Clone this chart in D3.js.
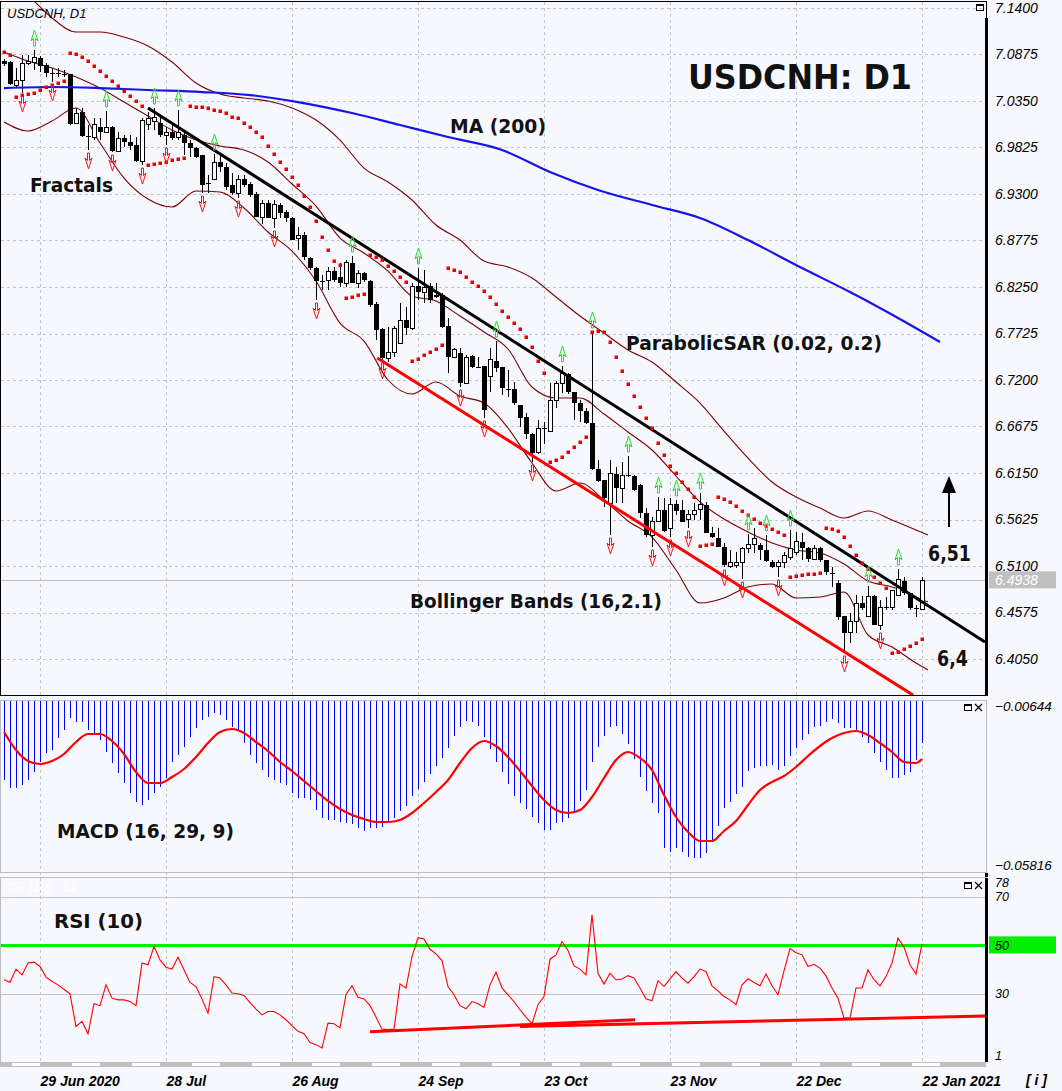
<!DOCTYPE html>
<html><head><meta charset="utf-8">
<script src="https://cdn.jsdelivr.net/npm/d3@7"></script>
<style>
html,body{margin:0;padding:0;background:#f7f8fd;}
svg{display:block;}
</style></head><body>
<script>
// ---------------- DATA ----------------
const dateTicks = [6, 27, 48, 69, 90, 111, 132, 153];
const dateLabels = ["29 Jun 2020", "28 Jul", "26 Aug", "24 Sep", "23 Oct", "23 Nov", "22 Dec", "22 Jan 2021"];
const priceTicks = [7.1400, 7.0875, 7.0350, 6.9825, 6.9300, 6.8775, 6.8250, 6.7725, 6.7200, 6.6675, 6.6150, 6.5625, 6.5100, 6.4575, 6.4050];
const lastPrice = 6.4938;
const macdTicks = [-0.00644, -0.05816];
const rsiTicks = [78, 70, 50, 30, 1];
const rsiGrid = [70, 30];
const rsiLevel = 50;

const open = [
7.0801,7.0790,7.0530,7.0587,7.0779,7.0790,7.0835,7.0756,7.0666,7.0666,
7.0660,7.0655,7.0101,7.0226,6.9955,6.9943,7.0056,6.9999,7.0056,6.9785,
6.9932,6.9887,6.9853,6.9672,7.0090,7.0113,7.0101,6.9966,6.9999,6.9943,
6.9966,6.9876,6.9819,6.9740,6.9424,6.9469,6.9661,6.9605,6.9401,6.9311,
6.9469,6.9413,6.9300,6.9040,6.9198,6.9029,6.9176,6.9097,6.9029,6.8792,
6.8837,6.8577,6.8464,6.8318,6.8318,6.8430,6.8363,6.8295,6.8521,6.8295,
6.8408,6.8318,6.8058,6.7776,6.7448,6.7516,6.7617,6.7877,6.7787,6.8261,
6.8193,6.8261,6.8159,6.8159,6.7810,6.7459,6.7505,6.7166,6.7471,6.7347,
6.7358,6.7245,6.7415,6.7347,6.7098,6.7098,6.6918,6.6782,6.6590,6.6376,
6.6658,6.6624,6.6963,6.7155,6.7268,6.7064,6.6940,6.6850,6.6714,6.6195,
6.6071,6.5811,6.6138,6.5980,6.6127,6.6116,6.6014,6.5698,6.5450,6.5597,
6.5732,6.5529,6.5800,6.5732,6.5630,6.5676,6.5743,6.5788,6.5472,6.5416,
6.5314,6.5089,6.5111,6.5134,6.5292,6.5348,6.5337,6.5281,6.5145,6.5089,
6.5134,6.5201,6.5258,6.5371,6.5303,6.5179,6.5303,6.5168,6.5021,6.4908,
6.4535,6.4344,6.4468,6.4682,6.4535,6.4761,6.4423,6.4637,6.4626,6.4772,
6.4930,6.4795,6.4626,6.4614];
const high = [
7.0824,7.0801,7.0722,7.0869,7.0869,7.0926,7.0858,7.0779,7.0722,7.0722,
7.0700,7.0655,7.0271,7.0271,7.0079,7.0158,7.0158,7.0237,7.0067,6.9999,
6.9966,6.9966,6.9943,7.0158,7.0226,7.0271,7.0169,7.0056,7.0079,7.0248,
7.0022,6.9909,6.9831,6.9740,6.9514,6.9751,6.9751,6.9650,6.9537,6.9514,
6.9514,6.9435,6.9322,6.9232,6.9232,6.9232,6.9198,6.9119,6.9040,6.8927,
6.8871,6.8588,6.8476,6.8385,6.8476,6.8476,6.8521,6.8555,6.8600,6.8442,
6.8419,6.8329,6.8081,6.7787,6.7798,6.7810,6.8069,6.8024,6.8295,6.8464,
6.8442,6.8295,6.8295,6.8182,6.7900,6.7561,6.7561,6.7482,6.7482,6.7459,
6.7358,6.7561,6.7640,6.7347,6.7313,6.7177,6.6918,6.6827,6.6601,6.6748,
6.6726,6.7166,6.7188,6.7358,6.7279,6.7064,6.6974,6.6884,6.7742,6.6297,
6.6071,6.6297,6.6217,6.6274,6.6342,6.6127,6.6025,6.5755,6.5653,6.5879,
6.5868,6.5868,6.5845,6.5845,6.5732,6.5811,6.5924,6.5823,6.5540,6.5529,
6.5360,6.5281,6.5258,6.5314,6.5461,6.5529,6.5360,6.5450,6.5168,6.5168,
6.5258,6.5506,6.5484,6.5472,6.5314,6.5337,6.5314,6.5168,6.5089,6.4942,
6.4535,6.4569,6.4772,6.4761,6.4874,6.4772,6.4716,6.4750,6.4829,6.5066,
6.4976,6.4795,6.4660,6.4976];
const low = [
7.0745,7.0530,7.0497,7.0440,7.0756,7.0700,7.0677,7.0621,7.0564,7.0621,
7.0621,7.0079,7.0090,6.9943,6.9797,6.9909,6.9909,6.9988,6.9774,6.9774,
6.9831,6.9797,6.9661,6.9627,7.0022,7.0022,6.9943,6.9853,6.9909,6.9909,
6.9740,6.9717,6.9706,6.9311,6.9311,6.9469,6.9548,6.9346,6.9288,6.9254,
6.9379,6.9266,6.9040,6.8961,6.9029,6.8916,6.9029,6.8984,6.8780,6.8668,
6.8555,6.8442,6.8103,6.8216,6.8216,6.8306,6.8250,6.8250,6.8295,6.8239,
6.8306,6.8024,6.7651,6.7426,6.7403,6.7459,6.7617,6.7708,6.7764,6.8103,
6.8069,6.8069,6.8126,6.7787,6.7279,6.7448,6.7121,6.7155,6.7336,6.7336,
6.6771,6.7064,6.7290,6.7030,6.7008,6.6918,6.6669,6.6534,6.6274,6.6364,
6.6477,6.6624,6.6884,6.7053,6.7042,6.6748,6.6726,6.6703,6.6184,6.6048,
6.5766,6.5450,6.5811,6.5811,6.6105,6.5946,6.5642,6.5427,6.5314,6.5597,
6.5484,6.5427,6.5676,6.5597,6.5529,6.5619,6.5619,6.5472,6.5416,6.5314,
6.5089,6.5077,6.5077,6.4953,6.5247,6.5247,6.5168,6.5145,6.5077,6.4976,
6.5077,6.5168,6.5224,6.5168,6.5145,6.5168,6.5145,6.4998,6.4863,6.4490,
6.4118,6.4231,6.4344,6.4603,6.4524,6.4434,6.4378,6.4603,6.4603,6.4772,
6.4772,6.4603,6.4524,6.4603];
const close = [
7.0767,7.0542,7.0587,7.0779,7.0801,7.0846,7.0745,7.0666,7.0660,7.0660,
7.0655,7.0090,7.0214,6.9955,6.9950,7.0090,6.9999,7.0056,6.9785,6.9932,
6.9887,6.9842,6.9672,7.0135,7.0158,7.0169,6.9966,6.9999,6.9932,6.9999,
6.9876,6.9819,6.9717,6.9401,6.9418,6.9661,6.9605,6.9379,6.9311,6.9469,
6.9401,6.9288,6.9040,6.9198,6.9029,6.9187,6.9085,6.9029,6.8780,6.8837,
6.8588,6.8464,6.8318,6.8313,6.8430,6.8329,6.8295,6.8521,6.8295,6.8408,
6.8329,6.8047,6.7764,6.7448,6.7516,6.7776,6.7877,6.7787,6.8261,6.8193,
6.8239,6.8103,6.8137,6.7798,6.7459,6.7539,6.7166,6.7459,6.7347,6.7342,
6.6861,6.7426,6.7336,6.7110,6.7095,6.6940,6.6771,6.6590,6.6376,6.6658,
6.6652,6.6974,6.7155,6.7268,6.7064,6.6940,6.6850,6.6714,6.6195,6.6059,
6.5868,6.6150,6.5980,6.6127,6.6122,6.5958,6.5698,6.5450,6.5597,6.5732,
6.5495,6.5800,6.5721,6.5597,6.5676,6.5721,6.5800,6.5472,6.5427,6.5314,
6.5111,6.5145,6.5134,6.5292,6.5348,6.5405,6.5281,6.5157,6.5089,6.5134,
6.5224,6.5303,6.5371,6.5303,6.5179,6.5303,6.5168,6.5032,6.5016,6.4524,
6.4344,6.4468,6.4682,6.4626,6.4761,6.4434,6.4637,6.4631,6.4818,6.4942,
6.4795,6.4626,6.4620,6.4938];

const maIdx = [0, 8, 16, 24, 33, 41, 49, 58, 66, 74, 83, 91, 99, 108, 116, 124, 133, 141, 149, 156];
const maVal = [7.0496, 7.0508, 7.0496, 7.0474, 7.0451, 7.0417, 7.0338, 7.0214, 7.0079, 6.9943, 6.9797, 6.9548, 6.9345, 6.9176, 6.9029, 6.8780, 6.8464, 6.8193, 6.7900, 6.7629];

const bbIdx = [0,4,8,12,16,20,24,28,32,36,40,44,48,52,56,60,64,68,72,76,80,84,88,92,96,100,104,108,112,116,120,124,128,132,136,140,144,148,152,154];
const bbUpper = [7.1659,7.1535,7.1287,7.1129,7.1129,7.1072,7.0971,7.0790,7.0553,7.0429,7.0384,7.0350,7.0271,7.0135,6.9909,6.9593,6.9435,6.9232,6.8950,6.8780,6.8543,6.8476,6.8351,6.8137,6.7922,6.7730,6.7539,6.7403,6.7177,6.6940,6.6624,6.6319,6.6048,6.5879,6.5755,6.5642,6.5721,6.5619,6.5506,6.5450];
const bbMiddle = [7.0903,7.0801,7.0722,7.0621,7.0496,7.0338,7.0180,7.0022,6.9909,6.9842,6.9797,6.9661,6.9413,6.9164,6.8803,6.8634,6.8430,6.8148,6.8092,6.7922,6.7742,6.7550,6.7121,6.6997,6.6997,6.6816,6.6613,6.6410,6.6116,6.5823,6.5630,6.5484,6.5360,6.5281,6.5247,6.5122,6.4930,6.4863,6.4750,6.4693];
const bbLower = [7.0113,7.0011,7.0124,7.0271,6.9876,6.9480,6.9243,6.9153,6.9334,6.9322,6.9142,6.8871,6.8656,6.8318,6.7843,6.7640,6.7200,6.7042,6.7177,6.7019,6.6940,6.6658,6.6263,6.5947,6.6037,6.5845,6.5608,6.5427,6.5055,6.4682,6.4739,6.4863,6.4897,6.4739,6.4750,6.4806,6.4321,6.4185,6.4005,6.3926];

const sar = [
7.0903,7.0869,7.0395,7.0417,7.0429,7.0440,7.0474,7.0508,7.0530,7.0553,
7.0576,7.0892,7.0880,7.0846,7.0801,7.0745,7.0688,7.0632,7.0576,7.0519,
7.0463,7.0406,7.0350,7.0293,6.9627,6.9638,6.9650,6.9661,6.9684,6.9695,
6.9706,7.0293,7.0282,7.0282,7.0271,7.0248,7.0237,7.0214,7.0169,7.0158,
7.0101,7.0056,6.9999,6.9943,6.9842,6.9751,6.9661,6.9582,6.9492,6.9401,
6.9277,6.9153,6.8995,6.8814,6.8668,6.8543,6.8498,6.8126,6.8137,6.8159,
6.8171,6.8611,6.8588,6.8555,6.8487,6.8430,6.8363,6.8306,6.7414,6.7437,
6.7482,6.7516,6.7550,6.7595,6.8464,6.8442,6.8419,6.8363,6.8306,6.8261,
6.8205,6.8137,6.8058,6.7979,6.7911,6.7843,6.7776,6.7685,6.7572,6.7414,
6.7279,6.6274,6.6297,6.6330,6.6387,6.6443,6.6500,6.6556,6.7742,6.7753,
6.7742,6.7629,6.7459,6.7301,6.7155,6.7019,6.6895,6.6771,6.6658,6.6489,
6.6353,6.6229,6.6150,6.6048,6.5969,6.5879,6.5326,6.5337,6.5348,6.5879,
6.5856,6.5823,6.5777,6.5721,6.5676,6.5630,6.5585,6.5552,6.5518,6.5484,
6.5450,6.4976,6.4987,6.4998,6.5010,6.5010,6.5021,6.5529,6.5518,6.5495,
6.5427,6.5326,6.5224,6.5134,6.5066,6.4976,6.4908,6.4851,6.4118,6.4129,
6.4163,6.4197,6.4231,6.4276];

const fractalUp = [5,17,25,29,35,58,69,82,93,98,104,109,112,116,124,127,131,144,149];
const fractalDown = [3,8,14,18,23,27,33,39,45,52,63,76,80,88,101,108,111,114,120,123,129,140,146];

const trendBlack = [[24, 7.0271], [163.5, 6.4242]];
const trendRed = [[62.2, 6.7448], [151.5, 6.3643]];

const macdHist = [
-0.03051,-0.03311,-0.03311,-0.03214,-0.03051,-0.02791,-0.02466,-0.02173,-0.02075,-0.01685,
-0.01425,-0.01034,-0.01164,-0.01164,-0.01425,-0.01522,-0.01750,-0.02140,-0.02498,-0.02824,
-0.03149,-0.03474,-0.03767,-0.03864,-0.03702,-0.03474,-0.03279,-0.02986,-0.02466,-0.02238,
-0.01978,-0.01652,-0.01360,-0.01099,-0.01002,-0.00872,-0.00937,-0.01099,-0.01327,-0.01425,
-0.01848,-0.02238,-0.02498,-0.02726,-0.02954,-0.03051,-0.03149,-0.03214,-0.03474,-0.03637,
-0.03637,-0.03702,-0.04027,-0.04287,-0.04352,-0.04352,-0.04417,-0.04450,-0.04483,-0.04613,
-0.04710,-0.04613,-0.04613,-0.04580,-0.04417,-0.04287,-0.04060,-0.03897,-0.03572,-0.03344,
-0.03116,-0.02856,-0.02596,-0.02336,-0.02010,-0.01620,-0.01327,-0.01132,-0.01164,-0.01295,
-0.01652,-0.02043,-0.02466,-0.02791,-0.03181,-0.03572,-0.03799,-0.03995,-0.04255,-0.04450,
-0.04678,-0.04678,-0.04450,-0.04417,-0.04287,-0.04060,-0.03734,-0.03377,-0.02466,-0.01978,
-0.01620,-0.01327,-0.01295,-0.01555,-0.01880,-0.02368,-0.02954,-0.03409,-0.03799,-0.04125,
-0.05263,-0.05393,-0.05263,-0.05393,-0.05556,-0.05589,-0.05589,-0.05426,-0.05068,-0.04548,
-0.03962,-0.03767,-0.03507,-0.03279,-0.02758,-0.02661,-0.02596,-0.02596,-0.02563,-0.02726,
-0.02596,-0.02271,-0.02010,-0.01750,-0.01555,-0.01327,-0.01295,-0.01164,-0.01067,-0.01197,
-0.01360,-0.01360,-0.01425,-0.01652,-0.01848,-0.02173,-0.02466,-0.02726,-0.02986,-0.02986,
-0.02889,-0.02791,-0.02401,-0.01848];
const signalIdx = [0,2,4,6,8,10,12,14,16,18,20,22,24,26,28,30,32,34,36,38,40,42,44,46,48,50,52,54,56,58,60,62,64,66,68,70,72,74,76,78,80,82,84,86,88,90,92,94,96,98,100,102,104,106,108,110,112,114,116,118,120,122,124,126,128,130,132,134,136,138,140,142,144,146,148,150,152,153];
const signalVal = [
-0.01490,-0.02075,-0.02433,-0.02531,-0.02433,-0.02205,-0.01815,-0.01555,-0.01555,-0.01783,
-0.02205,-0.02791,-0.03149,-0.03149,-0.02954,-0.02693,-0.02303,-0.01848,-0.01490,-0.01392,
-0.01522,-0.01815,-0.02108,-0.02466,-0.02758,-0.03084,-0.03409,-0.03734,-0.03995,-0.04190,
-0.04320,-0.04417,-0.04417,-0.04352,-0.04125,-0.03799,-0.03442,-0.03051,-0.02498,-0.02010,
-0.01783,-0.01945,-0.02303,-0.02758,-0.03246,-0.03702,-0.04027,-0.04125,-0.04027,-0.03604,
-0.02986,-0.02401,-0.02140,-0.02336,-0.02726,-0.03539,-0.04255,-0.04743,-0.05036,-0.05036,
-0.04710,-0.04385,-0.03864,-0.03377,-0.03116,-0.02921,-0.02628,-0.02271,-0.01945,-0.01685,
-0.01522,-0.01457,-0.01587,-0.01848,-0.02140,-0.02466,-0.02498,-0.02368];

const rsi = [
35.8,34.8,40.2,37.8,42.7,43.1,41.3,36.9,35.1,33.7,
31.9,30.0,16.5,18.6,13.5,25.9,25.1,33.7,28.2,27.5,
27.5,26.8,25.1,42.7,42.0,49.5,44.0,41.0,40.2,45.1,
39.9,34.7,33.0,27.8,22.0,37.1,36.5,33.7,30.3,30.0,
29.3,26.4,23.7,21.3,22.7,22.7,21.3,19.3,16.8,14.5,
13.5,9.9,9.0,7.6,17.9,17.6,15.9,29.7,33.3,28.6,
27.9,25.1,20.4,15.4,15.2,15.4,34.1,32.4,45.4,53.2,
52.6,48.4,46.5,43.7,33.0,29.6,25.1,23.8,26.8,25.9,
24.4,33.7,38.9,32.4,29.6,26.8,23.4,20.4,17.6,25.5,
28.9,44.3,46.1,51.6,47.9,41.5,40.2,37.8,62.6,38.5,
34.0,38.5,35.8,36.1,37.5,36.5,32.4,27.9,27.1,35.4,
33.0,36.2,39.2,36.5,34.4,37.1,40.2,39.2,33.3,31.2,
28.9,27.5,25.5,33.7,36.2,34.7,33.3,38.2,33.3,29.6,
39.5,48.7,47.0,46.1,41.3,42.2,40.6,37.4,32.4,28.2,
20.0,20.0,32.4,32.4,39.9,35.8,33.3,37.1,42.7,53.0,
49.3,42.0,38.2,50.6];
const rsiTrend1 = [[61, 14.3], [105.2, 19.3]];
const rsiTrend2 = [[86, 16.5], [163.5, 20.8]];

// ---------------- LAYOUT ----------------
const W = 1062, H = 1091;
const RIGHT = 986;
const P = {main: [1, 695], macd: [700, 872], rsi: [877, 1062]};
const BG = "#f7f8fd";
const axisFont = "'Liberation Sans', Arial, sans-serif";
const annFont = "'DejaVu Sans', Verdana, sans-serif";

const svg = d3.select("body").append("svg").attr("width", W).attr("height", H);
svg.append("rect").attr("width", W).attr("height", H).attr("fill", BG);
const defs = svg.append("defs");
function clip(id, x0, y0, x1, y1) {
  defs.append("clipPath").attr("id", id).append("rect")
    .attr("x", x0).attr("y", y0).attr("width", x1 - x0).attr("height", y1 - y0);
}
clip("cMain", 1, P.main[0] + 1, RIGHT - 1, P.main[1]);
clip("cMacd", 1, P.macd[0] + 1, RIGHT - 1, P.macd[1]);
clip("cRsi", 1, P.rsi[0] + 1, RIGHT - 1, P.rsi[1]);

const x = d3.scaleLinear().domain([0, 153]).range([4, 922]);
const yP = d3.scaleLinear().domain([6.4050, 7.1400]).range([659, 8]);
const yM = d3.scaleLinear().domain([-0.05816, -0.00644]).range([865, 706]);
const yR = d3.scaleLinear().domain([1, 78]).range([1064, 877.6]);
const px = v => Math.round(v) + 0.5;

// ---------------- GRID ----------------
const grid = svg.append("g").attr("stroke", "#c4c4c4").attr("stroke-dasharray", "3,3").attr("shape-rendering", "crispEdges");
grid.selectAll("line.v").data(dateTicks).join("line").attr("class", "v")
  .attr("x1", d => px(x(d))).attr("x2", d => px(x(d))).attr("y1", 2).attr("y2", P.rsi[1]);
grid.selectAll("line.h").data(priceTicks).join("line").attr("class", "h")
  .attr("x1", 1).attr("x2", RIGHT).attr("y1", d => px(yP(d))).attr("y2", d => px(yP(d)));

// ---------------- MAIN PANEL ----------------
const main = svg.append("g").attr("clip-path", "url(#cMain)");
main.append("line").attr("x1", 1).attr("x2", RIGHT).attr("y1", px(yP(lastPrice))).attr("y2", px(yP(lastPrice)))
  .attr("stroke", "#bdbdbd").attr("shape-rendering", "crispEdges");

const bandLine = d3.line().x((d, k) => x(bbIdx[k])).y(d => yP(d)).curve(d3.curveMonotoneX);
[bbUpper, bbMiddle, bbLower].forEach(arr => {
  main.append("path").attr("d", bandLine(arr)).attr("fill", "none").attr("stroke", "#7d0000").attr("stroke-width", 1.1);
});

const candles = close.map((c, i) => ({i, o: open[i], h: high[i], l: low[i], c}));
const gC = main.append("g").attr("shape-rendering", "crispEdges");
gC.selectAll("line").data(candles).join("line")
  .attr("x1", d => Math.round(x(d.i)) + 0.5).attr("x2", d => Math.round(x(d.i)) + 0.5)
  .attr("y1", d => yP(d.h)).attr("y2", d => yP(d.l)).attr("stroke", "#000");
gC.selectAll("rect").data(candles).join("rect")
  .attr("x", d => d.c > d.o ? Math.round(x(d.i)) - 1.5 : Math.round(x(d.i)) - 2)
  .attr("width", d => d.c > d.o ? 4 : 5)
  .attr("y", d => yP(Math.max(d.o, d.c)))
  .attr("height", d => Math.max(1, Math.abs(yP(d.o) - yP(d.c))))
  .attr("fill", d => d.c > d.o ? "#fff" : "#000")
  .attr("stroke", d => d.c > d.o ? "#000" : "none");

const maLine = d3.line().x((d, k) => x(maIdx[k])).y(d => yP(d)).curve(d3.curveMonotoneX);
main.append("path").attr("d", maLine(maVal)).attr("fill", "none").attr("stroke", "#1414ee").attr("stroke-width", 2.2);

const tl = d3.line().x(d => x(d[0])).y(d => yP(d[1]));
main.append("path").attr("d", tl(trendBlack)).attr("stroke", "#000").attr("stroke-width", 3);
main.append("path").attr("d", tl(trendRed)).attr("stroke", "#ff0000").attr("stroke-width", 3);

main.append("g").selectAll("rect").data(sar).join("rect")
  .attr("x", (d, i) => Math.round(x(i)) - 1.5).attr("y", d => Math.round(yP(d)) - 1.5)
  .attr("width", 3.5).attr("height", 3.5).attr("fill", "#ee0000");

function upGlyph(cx, b) {
  const t = b - 16;
  return `M${cx},${t} L${cx + 3.5},${t + 11} L${cx + 1},${t + 8.5} L${cx + 1},${b} L${cx - 1},${b} L${cx - 1},${t + 8.5} L${cx - 3.5},${t + 11} Z`;
}
function downGlyph(cx, t) {
  const b = t + 16;
  return `M${cx},${b} L${cx + 3.5},${b - 11} L${cx + 1},${b - 8.5} L${cx + 1},${t} L${cx - 1},${t} L${cx - 1},${b - 8.5} L${cx - 3.5},${b - 11} Z`;
}
main.append("g").selectAll("path").data(fractalUp).join("path")
  .attr("d", i => upGlyph(Math.round(x(i)) + 0.5, yP(high[i]) - 4))
  .attr("fill", "none").attr("stroke", "#22e022").attr("stroke-width", 1);
main.append("g").selectAll("path").data(fractalDown).join("path")
  .attr("d", i => downGlyph(Math.round(x(i)) + 0.5, yP(low[i]) + 3))
  .attr("fill", "none").attr("stroke", "#ff1010").attr("stroke-width", 1);

// annotations main
function ann(t, x0, y0, size, len, g) {
  (g || svg).append("text").attr("x", x0).attr("y", y0).text(t)
    .attr("font-family", annFont).attr("font-weight", "bold").attr("font-size", size)
    .attr("fill", "#111").attr("textLength", len).attr("lengthAdjust", "spacingAndGlyphs");
}
ann("USDCNH: D1", 688, 89, 34, 224);
ann("MA (200)", 450, 133, 19, 96);
ann("Fractals", 30, 192, 19, 83);
ann("ParabolicSAR (0.02, 0.2)", 626, 350, 19, 256);
ann("Bollinger Bands (16,2.1)", 410, 608, 19, 252);
ann("6,51", 928, 561, 22, 43);
ann("6,4", 937, 666, 22, 31);
ann("MACD (16, 29, 9)", 57, 838, 20, 177);
ann("RSI (10)", 54, 928, 20, 89);

// arrow
svg.append("line").attr("x1", 949).attr("x2", 949).attr("y1", 527).attr("y2", 490).attr("stroke", "#000").attr("stroke-width", 2);
svg.append("path").attr("d", "M942,493 L956,493 L949,476 Z").attr("fill", "#000");

svg.append("text").attr("x", 7).attr("y", 18).text("USDCNH, D1")
  .attr("font-family", axisFont).attr("font-style", "italic").attr("font-size", 13).attr("fill", "#000");

// ---------------- MACD PANEL ----------------
const macd = svg.append("g").attr("clip-path", "url(#cMacd)");
macd.append("g").attr("shape-rendering", "crispEdges").selectAll("line").data(macdHist).join("line")
  .attr("x1", (d, i) => Math.round(x(i)) + 0.5).attr("x2", (d, i) => Math.round(x(i)) + 0.5)
  .attr("y1", Math.min(yM(0), P.macd[0] + 1)).attr("y2", d => yM(d))
  .attr("stroke", "#0000ff").attr("stroke-width", 1.2);
const sigLine = d3.line().x((d, k) => x(signalIdx[k])).y(d => yM(d)).curve(d3.curveMonotoneX);
macd.append("path").attr("d", sigLine(signalVal)).attr("fill", "none").attr("stroke", "#ff0000").attr("stroke-width", 2.2);

// ---------------- RSI PANEL ----------------
const rg = svg.append("g").attr("clip-path", "url(#cRsi)");
rg.selectAll("line.g").data(rsiGrid).join("line").attr("class", "g")
  .attr("x1", 1).attr("x2", RIGHT).attr("y1", d => px(yR(d))).attr("y2", d => px(yR(d)))
  .attr("stroke", "#c4c4c4").attr("shape-rendering", "crispEdges");
rg.append("line").attr("x1", 1).attr("x2", RIGHT).attr("y1", yR(rsiLevel)).attr("y2", yR(rsiLevel))
  .attr("stroke", "#00ee00").attr("stroke-width", 3);
const rl = d3.line().x((d, i) => x(i)).y(d => yR(d));
rg.append("path").attr("d", rl(rsi)).attr("fill", "none").attr("stroke", "#ff0000").attr("stroke-width", 1.1);
const rtl = d3.line().x(d => x(d[0])).y(d => yR(d[1]));
rg.append("path").attr("d", rtl(rsiTrend1)).attr("stroke", "#ff0000").attr("stroke-width", 3);
rg.append("path").attr("d", rtl(rsiTrend2)).attr("stroke", "#ff0000").attr("stroke-width", 3);
rg.append("text").attr("x", 3).attr("y", 891).text("RSI (10) : 51")
  .attr("font-family", axisFont).attr("font-style", "italic").attr("font-size", 13).attr("fill", "#ffffff");

// ---------------- FRAMES ----------------
const fr = svg.append("g").attr("fill", "none").attr("shape-rendering", "crispEdges");
fr.append("rect").attr("x", 0.5).attr("y", P.main[0] + 0.5).attr("width", RIGHT - 0.5).attr("height", P.main[1] - P.main[0]).attr("stroke", "#000");
fr.append("line").attr("x1", RIGHT).attr("x2", RIGHT).attr("y1", 18).attr("y2", P.main[1] + 1).attr("stroke", "#000").attr("stroke-width", 3);
fr.append("rect").attr("x", 0.5).attr("y", P.macd[0] + 0.5).attr("width", RIGHT - 0.5).attr("height", P.macd[1] - P.macd[0]).attr("stroke", "#bdbdbd");
fr.append("rect").attr("x", 0.5).attr("y", P.rsi[0] + 0.5).attr("width", RIGHT - 0.5).attr("height", P.rsi[1] - P.rsi[0]).attr("stroke", "#bdbdbd");
fr.append("line").attr("x1", RIGHT).attr("x2", RIGHT).attr("y1", P.rsi[0] + 1).attr("y2", P.rsi[1]).attr("stroke", "#000").attr("stroke-width", 3);
fr.append("line").attr("x1", RIGHT).attr("x2", RIGHT).attr("y1", P.macd[1] + 1).attr("y2", P.rsi[0]).attr("stroke", "#000").attr("stroke-width", 3);

// scroll strip under RSI
svg.append("rect").attr("x", 0).attr("y", 1062).attr("width", RIGHT).attr("height", 5).attr("fill", "#c0c0c0");
svg.append("g").selectAll("rect").data(d3.range(12, RIGHT - 20, 60)).join("rect")
  .attr("x", d => d).attr("y", 1063).attr("width", 28).attr("height", 3).attr("fill", "#ffffff");

// panel icons
function icons(y0, withX) {
  svg.append("rect").attr("x", withX ? 964.5 : 976.5).attr("y", y0 + 0.5).attr("width", 7).attr("height", 6)
    .attr("fill", "none").attr("stroke", "#000").attr("shape-rendering", "crispEdges");
  svg.append("rect").attr("x", withX ? 964.5 : 976.5).attr("y", y0 + 0.5).attr("width", 7).attr("height", 1.5).attr("fill", "#000");
  if (withX) {
    svg.append("path").attr("d", `M975,${y0} L982,${y0 + 7} M982,${y0} L975,${y0 + 7}`).attr("stroke", "#000").attr("stroke-width", 1.2);
  }
}
icons(4, false);
icons(704, true);
icons(882, true);

// ---------------- AXES ----------------
const axTxt = (g) => g.attr("font-family", axisFont).attr("font-style", "italic").attr("font-size", 14).attr("fill", "#000");
const ay = svg.append("g").attr("transform", `translate(${RIGHT + 2},0)`)
  .call(d3.axisRight(yP).tickValues(priceTicks).tickFormat(d3.format(".4f")).tickSize(0).tickPadding(7));
ay.select(".domain").remove();
ay.selectAll("text").call(axTxt);

// last price label
svg.append("rect").attr("x", 989).attr("y", yP(lastPrice) - 9).attr("width", 67).attr("height", 17).attr("fill", "#c0c0c0");
svg.append("text").attr("x", 995).attr("y", yP(lastPrice) + 5).text(d3.format(".4f")(lastPrice))
  .call(axTxt).attr("fill", "#ffffff");

const am = svg.append("g").attr("transform", `translate(${RIGHT + 2},0)`)
  .call(d3.axisRight(yM).tickValues(macdTicks).tickFormat(d3.format(".5f")).tickSize(0).tickPadding(7));
am.select(".domain").remove();
am.selectAll("text").call(axTxt).attr("font-size", 13.5);

svg.append("rect").attr("x", 989).attr("y", yR(rsiLevel) - 9).attr("width", 67).attr("height", 17).attr("fill", "#00ee00");
const ar = svg.append("g").attr("transform", `translate(${RIGHT + 2},0)`)
  .call(d3.axisRight(yR).tickValues(rsiTicks).tickFormat(d3.format("d")).tickSize(0).tickPadding(7));
ar.select(".domain").remove();
ar.selectAll("text").call(axTxt).attr("font-size", 12.5)
  .attr("transform", d => d === 78 ? "translate(0,4.5)" : (d === 1 ? "translate(0,-9)" : null));

const ax = svg.append("g").attr("transform", `translate(0,1067)`)
  .call(d3.axisBottom(x).tickValues(dateTicks).tickFormat((d, k) => dateLabels[k]).tickSize(0).tickPadding(6));
ax.select(".domain").remove();
ax.selectAll("text").attr("text-anchor", "start").attr("font-family", axisFont).attr("font-style", "italic")
  .attr("font-weight", "bold").attr("font-size", 14).attr("fill", "#000").attr("dy", "0.9em");
svg.append("text").attr("x", 1026).attr("y", 1085).text("[ i ]")
  .attr("font-family", axisFont).attr("font-style", "italic").attr("font-weight", "bold").attr("font-size", 14).attr("fill", "#000");
</script>
</body></html>
